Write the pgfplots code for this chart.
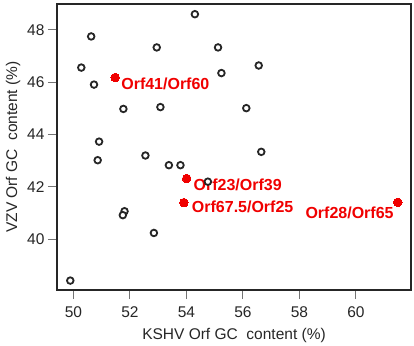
\documentclass[border=0pt]{standalone}
\usepackage{fontspec}
\setmainfont{Liberation Sans}
\usepackage{pgfplots}
\pgfplotsset{compat=1.18}
\usetikzlibrary{calc}
\definecolor{ink}{HTML}{262626}
\definecolor{hot}{HTML}{F00000}

\begin{document}
\begin{tikzpicture}
\begin{axis}[
    scale only axis,
    width=354pt, height=286pt,
    xmin=49.42, xmax=61.95,
    ymin=38.06, ymax=48.99,
    xtick={50,52,...,60},
    ytick={40,42,...,48},
    tick pos=left,
    tick align=outside,
    major tick length=9pt,
    tick style={black!55, line width=1pt},
    axis line style={ink, line width=1.6pt},
    /pgf/number format/assume math mode=true,
    ticklabel style={font=\fontsize{15.5}{18}\selectfont, text=ink},
    xticklabel style={yshift=-4pt},
    xlabel={KSHV Orf GC\ \ content (\%)},
    ylabel={VZV Orf GC\ \ content (\%)},
    label style={font=\fontsize{15.5}{18}\selectfont, text=ink},
    xlabel style={yshift=-4pt},
    clip=false,
]
% open circles: all other ORF pairs
\addplot[only marks, mark=*, mark size=3.3pt,
         mark options={draw=ink, fill=white, line width=1.8pt}] coordinates {
    (50.63,47.75) (52.95,47.33) (54.30,48.60) (50.28,46.56) (50.73,45.91)
    (51.77,44.98) (53.08,45.05) (50.91,43.73) (50.86,43.02) (52.55,43.20)
    (53.38,42.83) (53.79,42.83) (55.12,47.33) (56.56,46.64) (55.24,46.35)
    (56.12,45.01) (56.65,43.34) (51.81,41.07) (51.75,40.92) (52.85,40.24)
    (49.89,38.42) (54.76,42.20)
};
% highlighted pairs
\addplot[only marks, mark=*, mark size=4.3pt,
         mark options={draw=hot, fill=hot, line width=0pt}] coordinates {
    (51.48,46.18) (54.01,42.32) (53.91,41.40) (61.48,41.41)
};
\begin{scope}[every node/.style={text=hot, inner sep=0pt,
              font=\fontsize{16}{18}\selectfont\bfseries}]
\node[anchor=west] at (axis cs:51.69,45.94) {Orf41/Orf60};
\node[anchor=west] at (axis cs:54.25,42.06) {Orf23/Orf39};
\node[anchor=west] at (axis cs:54.19,41.22) {Orf67.5/Orf25};
\node[anchor=east] at (axis cs:61.34,41.01) {Orf28/Orf65};
\end{scope}
\end{axis}
\pgfresetboundingbox
\path ($(current axis.south west)+(-57pt,-55pt)$) rectangle ($(current axis.north east)+(3pt,4pt)$);
\end{tikzpicture}
\end{document}
